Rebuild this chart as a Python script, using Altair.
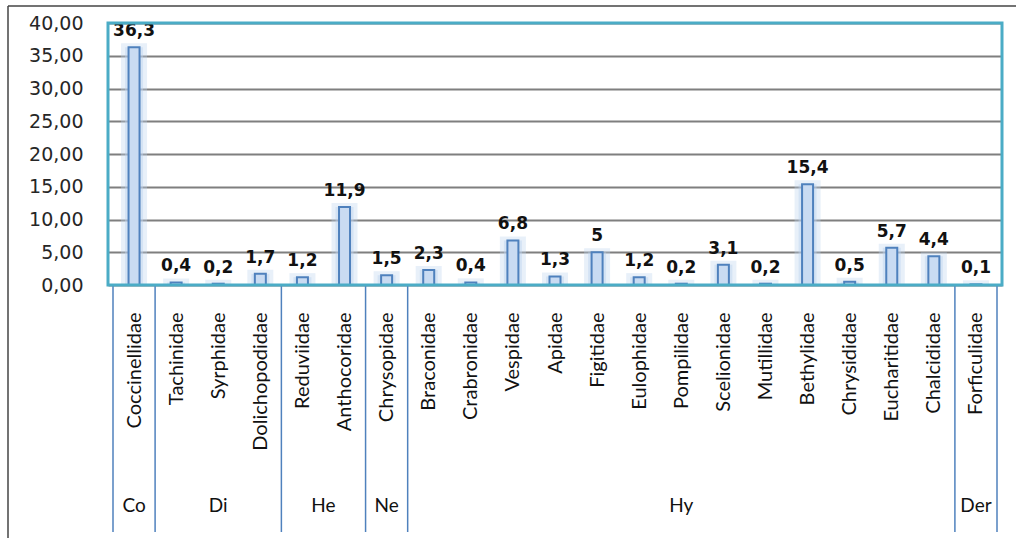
import altair as alt
import pandas as pd

families = ["Coccinellidae", "Tachinidae", "Syrphidae", "Dolichopodidae", "Reduviidae",
            "Anthocoridae", "Chrysopidae", "Braconidae", "Crabronidae", "Vespidae",
            "Apidae", "Figitidae", "Eulophidae", "Pompilidae", "Scelionidae",
            "Mutillidae", "Bethylidae", "Chrysididae", "Eucharitidae", "Chalcididae",
            "Forficulidae"]
values = [36.3, 0.4, 0.2, 1.7, 1.2, 11.9, 1.5, 2.3, 0.4, 6.8, 1.3, 5, 1.2, 0.2,
          3.1, 0.2, 15.4, 0.5, 5.7, 4.4, 0.1]
group_names = ["Co", "Di", "He", "Ne", "Hy", "Der"]
group_sizes = [1, 3, 2, 1, 13, 1]
y_ticks = [0, 5, 10, 15, 20, 25, 30, 35, 40]

W, H = 894, 262

df = pd.DataFrame({
    "idx": list(range(len(families))),
    "family": families,
    "value": values,
    "label": [("%g" % v).replace(".", ",") for v in values],
})

starts, ends = [], []
pos = 0
for s in group_sizes:
    starts.append(pos - 0.5)
    ends.append(pos + s - 0.5)
    pos += s
gdf = pd.DataFrame({"group": group_names, "start": starts, "end": ends,
                    "mid": [(a + b) / 2 for a, b in zip(starts, ends)]})
bounds = pd.DataFrame({"b": sorted(set(starts + ends))})

label_expr = "[" + ",".join("'%s'" % f for f in families) + "][datum.value]"

xscale = alt.Scale(domain=[-0.5, len(families) - 0.5], nice=False, zero=False)
yscale = alt.Scale(domain=[0, 40], nice=False)

x_enc = alt.X("idx:Q", scale=xscale,
              axis=alt.Axis(values=list(range(len(families))), labelExpr=label_expr,
                            labelAngle=270, labelAlign="right", labelBaseline="middle",
                            labelFont="Lato", labelFontSize=20, labelColor="#111111",
                            labelPadding=27, ticks=False, domain=False, grid=False,
                            title=None, labelOverlap=False))
y_enc = alt.Y("value:Q", scale=yscale,
              axis=alt.Axis(values=y_ticks, tickCount=9,
                            labelExpr="replace(format(datum.value, '.2f'), '.', ',')",
                            labelFont="DejaVu Sans", labelFontSize=19, labelColor="#262626",
                            labelPadding=25, ticks=False, domain=False, labelOverlap=False,
                            grid=True, gridColor="#7F7F7F", gridWidth=2, title=None))

base = alt.Chart(df)

glow = base.mark_bar(size=18, fill="#BDD3EF", fillOpacity=0.45, stroke="#BDD3EF",
                     strokeOpacity=0.35, strokeWidth=8, clip=True).encode(x=x_enc, y=y_enc)
bars = base.mark_bar(size=11, fill="#C9DBF2", stroke="#4F81BD", strokeWidth=2).encode(
    x=x_enc, y=y_enc)
texts = base.mark_text(font="DejaVu Sans", fontSize=17, fontWeight="bold",
                       baseline="alphabetic", dy=-11, color="#111111").encode(
    x=x_enc, y=y_enc, text="label:N")

seps = alt.Chart(bounds).mark_rule(color="#4F81BD", strokeWidth=1.5).encode(
    x=alt.X("b:Q", scale=xscale), y=alt.value(H), y2=alt.value(H + 247))
glabels = alt.Chart(gdf).mark_text(font="Lato", fontSize=19, color="#111111").encode(
    x=alt.X("mid:Q", scale=xscale), y=alt.value(483), text="group:N")

one = alt.Data(values=[{"k": 1}])
border = alt.Chart(one).mark_rect(fillOpacity=0, stroke="#4BACC6", strokeWidth=3).encode(
    x=alt.value(0), x2=alt.value(W), y=alt.value(0), y2=alt.value(H))
frame_top = alt.Chart(one).mark_rule(color="#444444", strokeWidth=1.5).encode(
    x=alt.value(-100), x2=alt.value(W + 14), y=alt.value(-17))
frame_left = alt.Chart(one).mark_rule(color="#444444", strokeWidth=1.5).encode(
    x=alt.value(-100), y=alt.value(-17), y2=alt.value(H + 253))

chart = alt.layer(glow, bars, texts, seps, glabels, border, frame_top, frame_left).properties(
    width=W, height=H,
    autosize=alt.AutoSizeParams(type="none"),
    padding={"left": 108, "top": 23, "right": 14, "bottom": 253},
).configure_view(stroke=None)

chart.save("out.html", embed_options={"renderer": "svg", "actions": False})
